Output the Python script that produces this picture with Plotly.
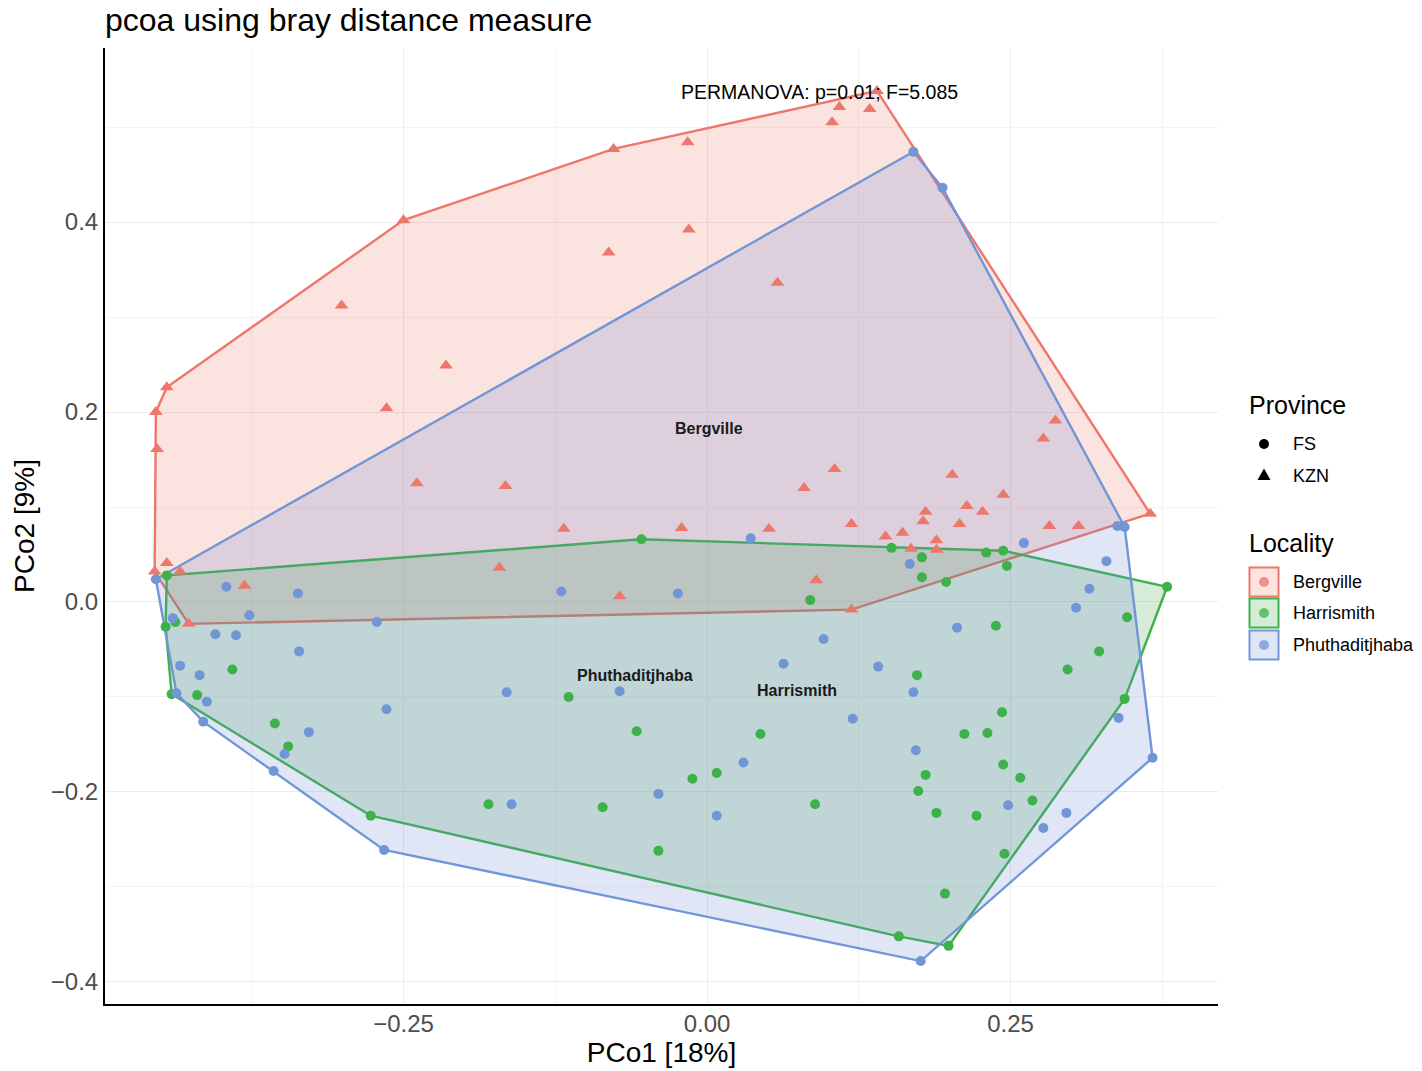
import plotly.graph_objects as go

# ---- PCoA scores (Bray-Curtis), first two axes ----
bergville_x = [-0.454, -0.453, -0.445, -0.455, -0.445, -0.434, -0.427, -0.381, -0.264, -0.239,
               -0.215, -0.301, -0.250, -0.077, -0.016, -0.081, -0.015, 0.058, 0.103, 0.109,
               0.134, 0.140, 0.287, 0.277, 0.202, 0.244, 0.214, 0.227, 0.180, 0.178,
               0.208, 0.282, 0.306, 0.147, 0.161, 0.189, 0.168, 0.189, 0.365, -0.166,
               -0.118, -0.021, 0.051, 0.080, 0.105, 0.119, -0.171, -0.072, 0.090, 0.119]
bergville_y = [0.200, 0.161, 0.226, 0.032, 0.041, 0.032, -0.023, 0.017, 0.204, 0.125,
               0.249, 0.312, 0.402, 0.477, 0.484, 0.368, 0.392, 0.336, 0.505, 0.521,
               0.519, 0.538, 0.191, 0.172, 0.134, 0.113, 0.101, 0.095, 0.095, 0.085,
               0.082, 0.080, 0.080, 0.069, 0.073, 0.065, 0.056, 0.055, 0.093, 0.122,
               0.077, 0.078, 0.077, 0.120, 0.140, 0.082, 0.036, 0.006, 0.023, -0.008]

harrismith_x = [-0.445, -0.446, -0.438, -0.391, -0.441, -0.420, -0.356, -0.345, -0.277, -0.180,
                -0.114, -0.058, -0.086, -0.040, -0.012, 0.008, 0.044, 0.089, 0.243, 0.212,
                0.231, 0.244, 0.258, 0.180, 0.174, 0.189, 0.222, 0.268, 0.245, 0.196,
                0.158, 0.199, 0.344, 0.152, 0.177, 0.177, 0.197, 0.230, 0.244, 0.247,
                0.238, 0.173, 0.297, 0.323, 0.346, 0.379, -0.054, 0.085]
harrismith_y = [0.028, -0.026, -0.021, -0.071, -0.097, -0.098, -0.128, -0.152, -0.225, -0.213,
                -0.100, -0.136, -0.216, -0.262, -0.186, -0.180, -0.139, -0.213, -0.116, -0.139,
                -0.138, -0.171, -0.185, -0.182, -0.199, -0.222, -0.225, -0.209, -0.265, -0.307,
                -0.352, -0.362, -0.102, 0.057, 0.047, 0.026, 0.021, 0.052, 0.054, 0.038,
                -0.025, -0.077, -0.071, -0.052, -0.016, 0.016, 0.066, 0.002]

phuthaditjhaba_x = [-0.454, -0.396, -0.337, -0.377, -0.440, -0.405, -0.388, -0.272, -0.336, -0.434,
                    -0.418, -0.437, -0.412, -0.415, -0.328, -0.264, -0.348, -0.357, -0.266, -0.165,
                    -0.072, -0.161, -0.040, 0.008, 0.030, 0.120, -0.120, -0.024, 0.036, 0.096,
                    0.063, 0.141, 0.167, 0.261, 0.329, 0.315, 0.304, 0.338, 0.344, 0.206,
                    0.170, 0.172, 0.248, 0.277, 0.296, 0.339, 0.367, 0.176, 0.170, 0.194]
phuthaditjhaba_y = [0.024, 0.016, 0.009, -0.014, -0.017, -0.034, -0.035, -0.021, -0.052, -0.067,
                    -0.077, -0.096, -0.105, -0.126, -0.137, -0.113, -0.160, -0.178, -0.261, -0.095,
                    -0.094, -0.213, -0.202, -0.225, -0.169, -0.123, 0.011, 0.009, 0.067, -0.039,
                    -0.065, -0.068, 0.040, 0.062, 0.043, 0.014, -0.006, 0.080, 0.079, -0.027,
                    -0.095, -0.156, -0.214, -0.238, -0.222, -0.122, -0.164, -0.378, 0.474, 0.436]

localities = ["Bergville", "Harrismith", "Phuthaditjhaba"]
provinces = ["KZN", "FS", "FS"]
scores_x = [bergville_x, harrismith_x, phuthaditjhaba_x]
scores_y = [bergville_y, harrismith_y, phuthaditjhaba_y]

# group label positions and test result
label_x = [0.002, 0.074, -0.059]
label_y = [0.183, -0.093, -0.077]
permanova_text = "PERMANOVA: p=0.01; F=5.085"

colors = {"Bergville": "#EE776C", "Harrismith": "#3DB24A", "Phuthaditjhaba": "#7196D8"}
fills = {"Bergville": "rgba(236,122,96,0.2)",
         "Harrismith": "rgba(50,160,60,0.2)",
         "Phuthaditjhaba": "rgba(105,128,210,0.2)"}
symbols = {"FS": "circle", "KZN": "triangle-up"}
FONT = "Liberation Sans, Arial, sans-serif"


def convex_hull(xs, ys):
    pts = sorted(set(zip(xs, ys)))
    if len(pts) < 3:
        return pts

    def cross(o, a, b):
        return (a[0] - o[0]) * (b[1] - o[1]) - (a[1] - o[1]) * (b[0] - o[0])

    lower, upper = [], []
    for p in pts:
        while len(lower) >= 2 and cross(lower[-2], lower[-1], p) <= 0:
            lower.pop()
        lower.append(p)
    for p in reversed(pts):
        while len(upper) >= 2 and cross(upper[-2], upper[-1], p) <= 0:
            upper.pop()
        upper.append(p)
    return lower[:-1] + upper[:-1]


fig = go.Figure()

# hull polygons per locality
for loc, xs, ys in zip(localities, scores_x, scores_y):
    hull = convex_hull(xs, ys)
    hx = [p[0] for p in hull] + [hull[0][0]]
    hy = [p[1] for p in hull] + [hull[0][1]]
    fig.add_trace(go.Scatter(x=hx, y=hy, mode="lines", fill="toself",
                             fillcolor=fills[loc],
                             line=dict(color=colors[loc], width=2.4),
                             hoverinfo="skip", showlegend=False))

# sample points
for loc, prov, xs, ys in zip(localities, provinces, scores_x, scores_y):
    fig.add_trace(go.Scatter(x=xs, y=ys, mode="markers", name=loc,
                             marker=dict(color=colors[loc], symbol=symbols[prov],
                                         size=12 if prov == "KZN" else 10,
                                         line=dict(width=0)),
                             showlegend=False))

# group labels
for loc, lx, ly in zip(localities, label_x, label_y):
    fig.add_annotation(x=lx, y=ly, text=loc, showarrow=False,
                       font=dict(family=FONT, size=16, color="#1A1A1A", weight="bold"))

fig.add_annotation(x=0.093, y=0.537, text=permanova_text, showarrow=False,
                   font=dict(family=FONT, size=19.5, color="black"))

# ---- legend, drawn in paper space ----
W, H = 1422, 1071
L, R, T, B = 105, 204, 48, 67
PW, PH = W - L - R, H - T - B


def px(x):
    return (x - L) / PW


def py(y):
    return (H - B - y) / PH


def legend_text(x, y, text, size):
    fig.add_annotation(x=px(x), y=py(y), xref="paper", yref="paper", text=text,
                       showarrow=False, xanchor="left", yanchor="middle",
                       font=dict(family=FONT, size=size, color="black"))


legend_text(1247, 405, "Province", 25)
fig.add_shape(type="circle", xref="paper", yref="paper", xsizemode="pixel",
              ysizemode="pixel", xanchor=px(1264), yanchor=py(444),
              x0=-5, x1=5, y0=-5, y1=5, fillcolor="black", line=dict(width=0))
legend_text(1291, 444, "FS", 18)
fig.add_shape(type="path", xref="paper", yref="paper", xsizemode="pixel",
              ysizemode="pixel", xanchor=px(1264), yanchor=py(475),
              path="M-6.5,-5 L6.5,-5 L0,6.5 Z", fillcolor="black", line=dict(width=0))
legend_text(1291, 476, "KZN", 18)

legend_text(1247, 543, "Locality", 25)
for loc, cy in zip(localities, [582, 613, 645]):
    fig.add_shape(type="rect", xref="paper", yref="paper", xsizemode="pixel",
                  ysizemode="pixel", xanchor=px(1264), yanchor=py(cy),
                  x0=-14.5, x1=14.5, y0=-14.5, y1=14.5,
                  fillcolor=fills[loc], line=dict(color=colors[loc], width=2))
    fig.add_shape(type="circle", xref="paper", yref="paper", xsizemode="pixel",
                  ysizemode="pixel", xanchor=px(1264), yanchor=py(cy),
                  x0=-5, x1=5, y0=-5, y1=5, fillcolor=colors[loc],
                  opacity=0.75, line=dict(width=0))
    legend_text(1291, cy, loc, 18)

axis_common = dict(showline=True, linecolor="black", linewidth=2, mirror=False,
                   zeroline=False, ticks="", showgrid=True, gridcolor="#EBEBEB",
                   gridwidth=1.3,
                   tickfont=dict(family=FONT, size=24, color="#4D4D4D"))

fig.update_xaxes(range=[-0.4959, 0.4209], tick0=0, dtick=0.25, tickformat=".2f",
                 minor=dict(dtick=0.125, showgrid=True, gridcolor="#F4F4F4", gridwidth=0.9),
                 ticklabelstandoff=-3,
                 title=dict(text="PCo1 [18%]", standoff=6,
                            font=dict(family=FONT, size=28, color="black")),
                 **axis_common)
fig.update_yaxes(range=[-0.4232, 0.5832], tick0=0, dtick=0.2, tickformat=".1f",
                 minor=dict(dtick=0.1, showgrid=True, gridcolor="#F4F4F4", gridwidth=0.9),
                 title=dict(text="PCo2 [9%]", standoff=8,
                            font=dict(family=FONT, size=28, color="black")),
                 **axis_common)

fig.update_layout(
    width=W, height=H,
    margin=dict(l=L, r=R, t=T, b=B, autoexpand=False),
    paper_bgcolor="white", plot_bgcolor="white",
    title=dict(text="pcoa using bray distance measure", x=px(105), xref="paper",
               xanchor="left", y=1 - 20 / H, yref="container", yanchor="middle",
               font=dict(family=FONT, size=32, color="black")),
    showlegend=False,
)

fig.write_html("out.html")
